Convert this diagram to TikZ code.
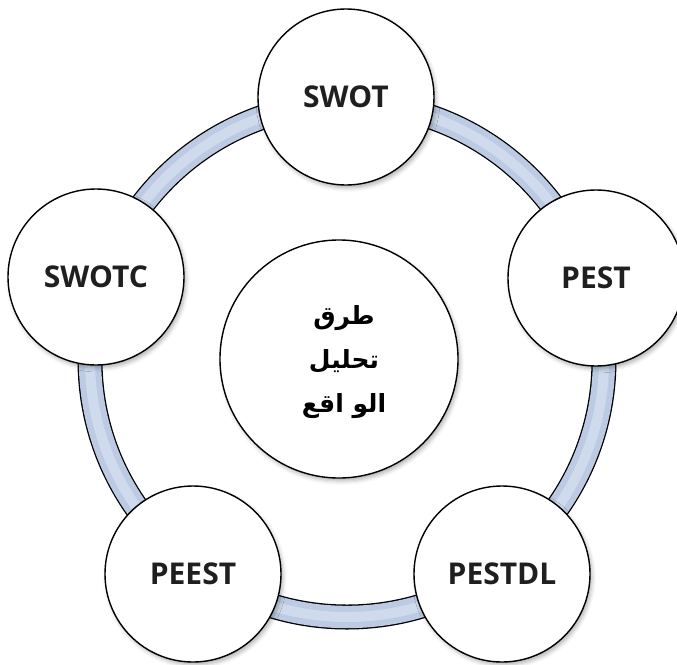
\documentclass[tikz,border=0pt]{standalone}
\usepackage{fontspec}
\setmainfont{Open Sans}
\newfontfamily\arabicfont[Script=Arabic]{DejaVu Sans}
\TeXXeTstate=1
\usetikzlibrary{shadows.blur}
\definecolor{ringblue}{HTML}{BCCBE3}
\definecolor{ringlight}{HTML}{DCE5F2}
\begin{document}
\begin{tikzpicture}[x=1pt,y=-1pt,
  bubble/.style={circle, draw=black, line width=1.4pt, fill=white,
    minimum size=176pt, inner sep=0pt,
    blur shadow={shadow xshift=2pt, shadow yshift=-3pt,
      shadow blur radius=4pt, shadow opacity=30},
    font=\bfseries\fontsize{30}{36}\selectfont, text=black!88},
  hub/.style={bubble, minimum size=238pt,
    font=\arabicfont\bfseries\fontsize{25}{44}\selectfont, align=center}]
  \useasboundingbox (0,0) rectangle (677,664);
  % connecting ring
  \coordinate (c) at (347,360);
  \draw[line width=25pt, black] (c) circle[radius=257pt];
  \draw[line width=22.4pt, ringblue] (c) circle[radius=257pt];
  \draw[line width=10pt, ringlight, opacity=0.6] (c) circle[radius=257pt];
  % outer bubbles
  \node[bubble] (swot)   at (346,97)  {SWOT};
  \node[bubble] (pest)   at (596,278) {PEST};
  \node[bubble] (pestdl) at (502,574) {PESTDL};
  \node[bubble] (peest)  at (193,574) {PEEST};
  \node[bubble] (swotc)  at (96,277)  {SWOTC};
  % central bubble
  \node[hub] (hub) at (339,359) {};
  \node[font=\arabicfont\bfseries\fontsize{25}{44}\selectfont, align=center]
    (hubtext) at (344,362) {\beginR طرق\endR\\ \beginR تحليل\endR\\ \beginR الو اقع\endR};
\end{tikzpicture}
\end{document}
